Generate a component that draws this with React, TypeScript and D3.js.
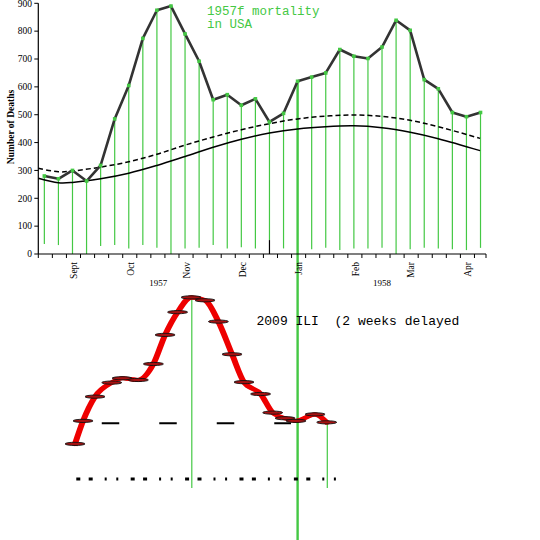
import * as d3 from "d3";
import React from "react";

// 1957-58 weekly deaths (32 weeks, Sept 1957 .. Apr 1958)
const weeks = d3.range(32);
const deaths = [280, 270, 300, 262, 318, 485, 605, 774, 875, 890, 790, 692, 554, 572, 534, 557,
  474, 505, 620, 635, 650, 734, 710, 702, 743, 839, 803, 626, 593, 508, 493, 508];
// where each green drop line stops (deaths scale)
const dropBottoms = [36, 32, 0, 0, 29, 32, 20, 32, 22, 0, 20, 22, 32, 20, 24, 20,
  50, 20, 0, 17, 22, 14, 20, 20, 22, 0, 17, 22, 20, 17, 14, 22];
const janWeek = 18;
const stubWeek = 16;

// expected deaths and epidemic threshold
const baseWeeks = [-0.43, 1, 2, 4, 6, 8, 10, 12, 14, 16, 18, 20, 22, 24, 26, 28, 30.97];
const expected = [272, 256, 257, 270, 290, 318, 350, 383, 412, 434, 449, 457, 460, 453, 437, 414, 371];
const threshold = [308, 295, 298, 312, 331, 358, 391, 420, 446, 468, 485, 495, 499, 494, 480, 457, 415];

const monthLabels = ["Sept", "Oct", "Nov", "Dec", "Jan", "Feb", "Mar", "Apr"];
const monthWeeks = [2.1, 6.1, 10.1, 14.1, 18.1, 22.1, 26.05, 30.1];
const yearLabels = ["1957", "1958"];
const yearWeeks = [8.1, 24];
const yTicks = d3.range(0, 1000, 100);
const titleLines = ["1957f mortality", "in USA"];

// 2009 ILI, shifted two weeks
const iliWeeks = [2.18, 2.75, 3.6, 4.79, 5.52, 6.68, 7.75, 8.58, 9.47, 10.43, 11.42, 12.37,
  13.34, 14.19, 15.37, 16.23, 17.11, 17.89, 19.24, 20.07];
const iliValues = [1.45, 2.4, 3.4, 3.98, 4.16, 4.09, 4.75, 5.95, 6.89, 7.5, 7.38, 6.5,
  5.15, 4.0, 3.51, 2.74, 2.51, 2.4, 2.67, 2.34];
const iliBaseline = 2.3;
const iliMarkWeeks = [10.48, 20.11];
const iliMarkTops = [7.6, 2.34];

const green = "#44c844";
const serif = "'Liberation Serif', 'Times New Roman', serif";
const mono = "'Liberation Mono', 'Courier New', monospace";

export default function App() {
  const x = d3.scaleLinear().domain([-0.43, 31.39]).range([38.3, 486]);
  const y = d3.scaleLinear().domain([0, 900]).range([254, 3.3]);
  const yi = d3.scaleLinear().domain([0, iliBaseline]).range([479, 423.3]);

  const deathLine = d3.line<number>().x((w) => x(w)).y((w) => y(deaths[w]));
  const baseLine = (vals: number[]) =>
    d3.line<number>().x((w) => x(w)).y((w, i) => y(vals[i])).curve(d3.curveCatmullRom)(baseWeeks);
  const iliLine = d3
    .line<number>()
    .x((w) => x(w))
    .y((w, i) => yi(iliValues[i]))
    .curve(d3.curveMonotoneX);

  const xTicks = d3.range(-0.43, 31, 1).concat([31.39]);

  return (
    <svg width={540} height={540} style={{ position: "absolute", left: 0, top: 0, background: "#fff" }}>
      {/* green drop lines */}
      {weeks.map((w) =>
        w === janWeek ? null : (
          <line key={w} x1={x(w)} x2={x(w)} y1={y(deaths[w])} y2={y(dropBottoms[w])} stroke={green} strokeWidth={1.2} />
        )
      )}
      <line x1={x(stubWeek)} x2={x(stubWeek)} y1={y(dropBottoms[stubWeek])} y2={y(0)} stroke="#000" strokeWidth={1.2} />
      <line x1={x(janWeek)} x2={x(janWeek)} y1={y(deaths[janWeek])} y2={540} stroke={green} strokeWidth={2.4} />

      {/* axes */}
      <line x1={x(-0.43)} x2={x(31.39)} y1={y(0)} y2={y(0)} stroke="#000" strokeWidth={1.2} />
      <line x1={x(-0.43)} x2={x(-0.43)} y1={y(0)} y2={y(900)} stroke="#000" strokeWidth={1.2} />
      {xTicks.map((t, i) => (
        <line key={i} x1={x(t)} x2={x(t)} y1={y(0)} y2={y(0) + 4} stroke="#000" strokeWidth={1} />
      ))}
      {yTicks.map((t) => (
        <g key={t}>
          <line x1={x(-0.43) - 4} x2={x(-0.43)} y1={y(t)} y2={y(t)} stroke="#000" strokeWidth={1} />
          <text x={32} y={y(t)} dy="0.35em" textAnchor="end" fontFamily={serif} fontSize={9.5}>
            {t}
          </text>
        </g>
      ))}
      <text
        transform={`translate(14, ${127}) rotate(-90)`}
        textAnchor="middle"
        fontFamily={serif}
        fontSize={9.5}
        fontWeight="bold"
      >
        Number of Deaths
      </text>
      {monthLabels.map((m, i) => (
        <text
          key={m}
          transform={`translate(${x(monthWeeks[i])}, 262) rotate(-90)`}
          dy="0.35em"
          textAnchor="end"
          fontFamily={serif}
          fontSize={9.5}
        >
          {m}
        </text>
      ))}
      {yearLabels.map((yr, i) => (
        <text key={yr} x={x(yearWeeks[i])} y={286} textAnchor="middle" fontFamily={serif} fontSize={9}>
          {yr}
        </text>
      ))}

      {/* expected and threshold */}
      <path d={baseLine(expected) || ""} fill="none" stroke="#000" strokeWidth={1.5} />
      <path d={baseLine(threshold) || ""} fill="none" stroke="#000" strokeWidth={1.5} strokeDasharray="5 3" />

      {/* deaths */}
      <path d={deathLine(weeks) || ""} fill="none" stroke="#333" strokeWidth={2.6} strokeLinejoin="round" />
      {weeks.map((w) => (
        <rect key={w} x={x(w) - 1.8} y={y(deaths[w]) - 1.8} width={3.6} height={3.6} fill={green} />
      ))}

      {titleLines.map((t, i) => (
        <text key={t} x={207} y={15 + i * 13} fontFamily={mono} fontSize={12.5} fill={green}>
          {t}
        </text>
      ))}

      {/* 2009 ILI */}
      {iliMarkWeeks.map((w, i) => (
        <line key={i} x1={x(w)} x2={x(w)} y1={yi(iliMarkTops[i])} y2={yi(-0.37)} stroke={green} strokeWidth={1.2} />
      ))}
      <line
        x1={x(2.27)}
        x2={x(20.73)}
        y1={yi(0)}
        y2={yi(0)}
        stroke="#000"
        strokeWidth={3}
        strokeDasharray="4 8.4 4 12 2 9.6 2 12.4"
      />
      <line
        x1={x(4.08)}
        x2={x(17.53)}
        y1={yi(iliBaseline)}
        y2={yi(iliBaseline)}
        stroke="#000"
        strokeWidth={2}
        strokeDasharray="17.5 40"
      />
      {[-1.2, 0, 1.2].map((dx) => (
        <path
          key={dx}
          transform={`translate(${dx},0)`}
          d={iliLine(iliWeeks) || ""}
          fill="none"
          stroke="#ee0000"
          strokeWidth={3.6}
          strokeLinecap="square"
        />
      ))}
      {iliWeeks.map((w, i) => (
        <ellipse key={i} cx={x(w)} cy={yi(iliValues[i])} rx={10} ry={1.6} fill="#a81010" stroke="#111" strokeWidth={0.9} />
      ))}
      <text x={256.5} y={324.5} fontFamily={mono} fontSize={13} fill="#000" style={{ whiteSpace: "pre" }}>
        {"2009 ILI  (2 weeks delayed"}
      </text>
    </svg>
  );
}
